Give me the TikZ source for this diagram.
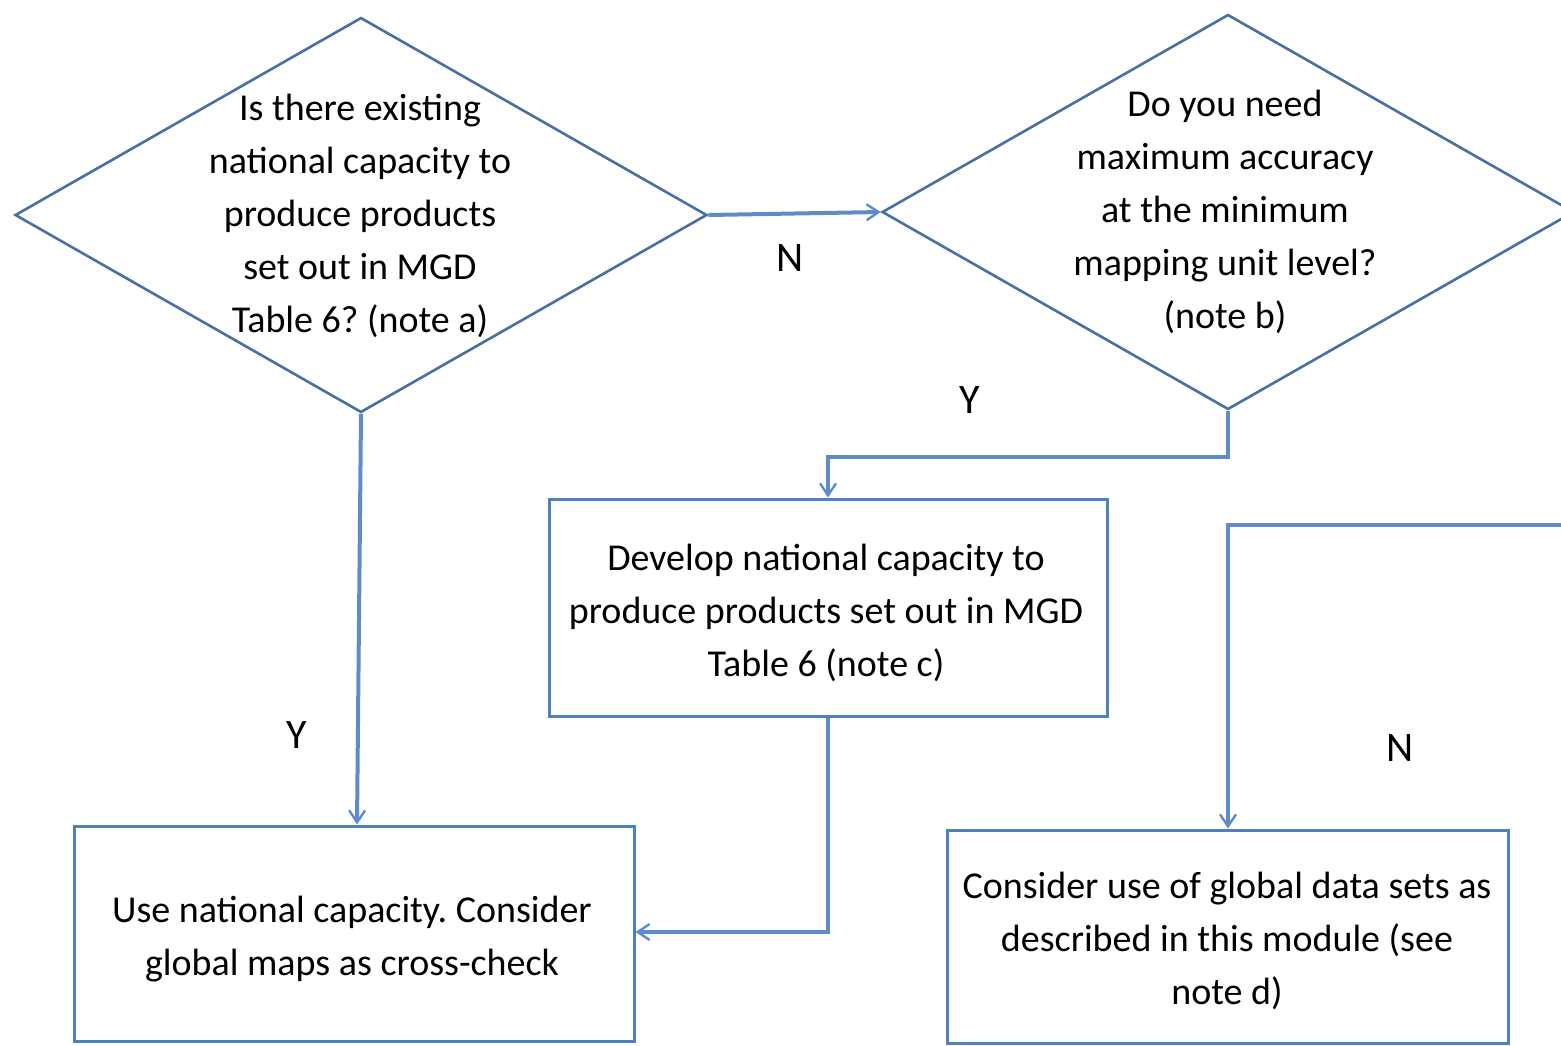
\documentclass[tikz,border=0pt]{standalone}
\usepackage{fontspec}
\setmainfont{Carlito}
\usetikzlibrary{shapes.geometric,arrows.meta}
\definecolor{boxblue}{RGB}{79,129,189}
\definecolor{diablue}{RGB}{72,112,162}
\definecolor{linkblue}{RGB}{95,140,200}
\frenchspacing
\tikzset{
  dia/.style={draw=diablue,line width=1.3pt,diamond,inner sep=0pt,minimum width=346pt,minimum height=197.5pt},
  stepbox/.style={draw=boxblue,line width=1.5pt,rectangle,inner sep=0pt},
  txt/.style={align=center,font=\fontsize{19}{26.5}\selectfont\frenchspacing,inner sep=0pt},
  lbl/.style={font=\fontsize{21}{24}\selectfont,inner sep=0pt},
  link/.style={draw=linkblue,line width=2pt,-{Straight Barb[length=6pt,width=8pt,line width=1.2pt]}},
}
\begin{document}
\begin{tikzpicture}[x=0.5pt,y=-0.5pt]
\useasboundingbox (0,0) rectangle (1561,1045);
\clip (0,0) rectangle (1561,1045);
\fill[white] (0,0) rectangle (1561,1045);
% diamonds
\node[dia] (d1) at (361,215) {};
\node[txt] (t1) at (360,216) {Is there existing\\national capacity to\\produce products\\set out in MGD\\Table 6? (note a)};
\node[dia] (d2) at (1228,212) {};
\node[txt] (t2) at (1225,212) {Do you need\\maximum accuracy\\at the minimum\\mapping unit level?\\(note b)};
% boxes
\node[stepbox,minimum width=279pt,minimum height=108.5pt] (b1) at (828,607.5) {};
\node[txt] (tb1) at (826,613) {Develop national capacity to\\produce products set out in MGD\\Table 6 (note c)};
\node[stepbox,minimum width=280pt,minimum height=107.5pt] (b2) at (354,933.5) {};
\node[txt] (tb2) at (352,939) {Use national capacity. Consider\\global maps as cross-check};
\node[stepbox,minimum width=280.5pt,minimum height=106.5pt] (b3) at (1227.5,936.5) {};
\node[txt] (tb3) at (1227,941) {Consider use of global data sets as\\described in this module (see\\note d)};
% connectors
\draw[link] (d1.east) -- (d2.west);
\node[lbl] (ln1) at (790,258) {N};
\coordinate (c1) at (1228,457);
\coordinate (c2) at (828,457);
\draw[link] (d2.south) -- (c1) -- (c2) -- (b1.north);
\node[lbl] (ly1) at (970,400) {Y};
\draw[link] (d1.south) -- (b2.north -| 357,0);
\node[lbl] (ly2) at (297,735) {Y};
\coordinate (c3) at (828,932);
\draw[link] (b1.south) -- (c3) -- (b2.east |- c3);
\coordinate (c4) at (1561,525);
\coordinate (c5) at (1228,525);
\draw[link] (c4) -- (c5) -- (b3.north -| c5);
\node[lbl] (ln2) at (1400,748) {N};
\end{tikzpicture}
\end{document}
